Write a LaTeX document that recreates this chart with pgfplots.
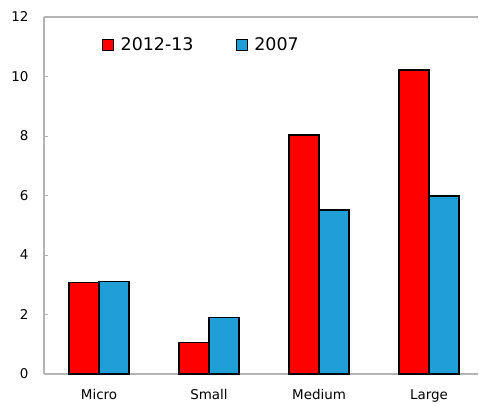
\documentclass[border=0pt]{standalone}
\usepackage{fontspec}
\setmainfont{DejaVu Sans}
\usepackage{pgfplots}
\pgfplotsset{compat=1.18}

\definecolor{rred}{HTML}{FF0000}
\definecolor{bblue}{HTML}{1F9ED8}
\definecolor{framegray}{HTML}{B4B4B4}

\begin{document}
\begin{tikzpicture}
    \begin{axis}[
        scale only axis,
        width  = 434bp,
        height = 357bp,
        ybar=0pt,
        bar width=30bp,
        xmin=-0.5, xmax=3.445,
        ymin=0, ymax=12,
        ytick={0,2,4,6,8,10,12},
        xtick={0,1,2,3},
        xticklabels={Micro,Small,Medium,Large},
        extra x ticks={0.5,1.5,2.5},
        extra x tick labels={},
        extra x tick style={major tick length=4bp, tick style={framegray}},
        major x tick style={draw=none},
        axis x line=box,
        axis y line=left,
        axis line style={framegray, line width=1.2bp, -},
        y tick style={framegray},
        tick align=inside,
        major tick length=4bp,
        tick label style={font=\fontsize{13.5}{15}\selectfont},
        /pgf/number format/assume math mode=true,
        yticklabel style={xshift=-12bp},
        xticklabel style={yshift=-12bp},
        clip=false,
        legend cell align=left,
        legend columns=2,
        legend style={
            at={(rel axis cs:0.133,0.922)},
            anchor=west,
            draw=none,
            fill=none,
            inner sep=0pt,
            font=\fontsize{17.5}{20}\selectfont,
            /tikz/every odd column/.append style={column sep=5bp},
            /tikz/every even column/.append style={column sep=40bp},
        },
        legend image code/.code={
            \draw[#1, draw=black, line width=0.8pt] (0bp,-5.5bp) rectangle (11bp,5.5bp);
        },
    ]
        \addplot[draw=black, line width=1.3bp, fill=rred]
        coordinates{(0,3.07)(1,1.06)(2,8.03)(3,10.22)};
        \addplot[draw=black, line width=1.3bp, fill=bblue]
        coordinates{(0,3.10)(1,1.89)(2,5.51)(3,5.98)};
        \legend{2012-13, 2007}
    \end{axis}
    \useasboundingbox (current axis.south west) ++(-44bp,-30bp) rectangle ++(479bp,404bp);
\end{tikzpicture}
\end{document}
